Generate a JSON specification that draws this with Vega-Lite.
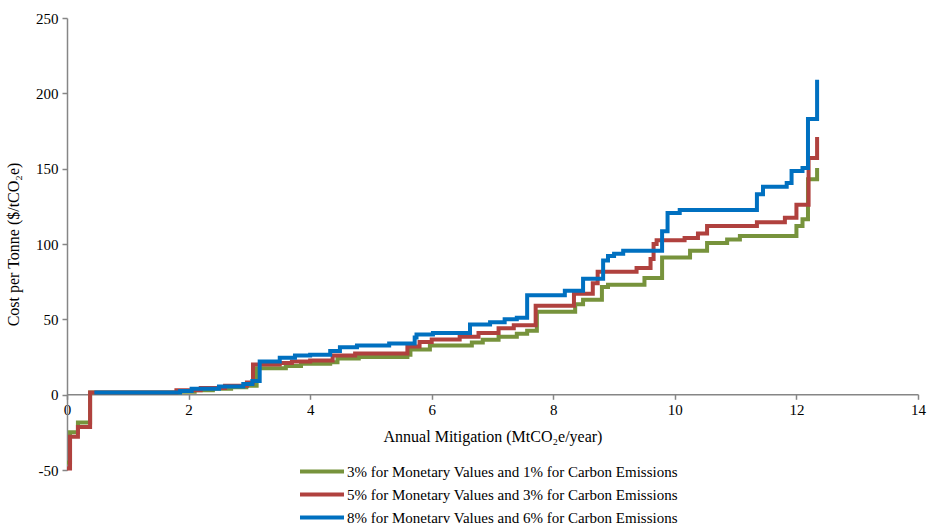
{
  "$schema": "https://vega.github.io/schema/vega-lite/v6.json",
  "width": 851,
  "height": 452,
  "autosize": {"type": "none"},
  "padding": {"left": 67, "top": 18, "right": 16, "bottom": 53},
  "background": "white",
  "config": {
    "view": {"stroke": null},
    "font": "Liberation Serif",
    "axis": {"labelFont": "Liberation Serif", "titleFont": "Liberation Serif", "labelFontSize": 15, "titleFontSize": 16, "titleFontWeight": "normal", "labelColor": "black", "titleColor": "black", "domainColor": "#868686", "tickColor": "#868686", "domainWidth": 1.5, "tickWidth": 1.5, "grid": false}
  },
  "datasets": {
    "pts": [
      {"s": "3% for Monetary Values and 1% for Carbon Emissions", "x": 0, "y": -45},
      {"s": "3% for Monetary Values and 1% for Carbon Emissions", "x": 0.05, "y": -25},
      {"s": "3% for Monetary Values and 1% for Carbon Emissions", "x": 0.18, "y": -18.5},
      {"s": "3% for Monetary Values and 1% for Carbon Emissions", "x": 0.38, "y": 1.5},
      {"s": "3% for Monetary Values and 1% for Carbon Emissions", "x": 1.85, "y": 2},
      {"s": "3% for Monetary Values and 1% for Carbon Emissions", "x": 2.1, "y": 3},
      {"s": "3% for Monetary Values and 1% for Carbon Emissions", "x": 2.4, "y": 4},
      {"s": "3% for Monetary Values and 1% for Carbon Emissions", "x": 2.7, "y": 5},
      {"s": "3% for Monetary Values and 1% for Carbon Emissions", "x": 2.95, "y": 6},
      {"s": "3% for Monetary Values and 1% for Carbon Emissions", "x": 3.12, "y": 17.5},
      {"s": "3% for Monetary Values and 1% for Carbon Emissions", "x": 3.6, "y": 19},
      {"s": "3% for Monetary Values and 1% for Carbon Emissions", "x": 3.85, "y": 20.5},
      {"s": "3% for Monetary Values and 1% for Carbon Emissions", "x": 4.33, "y": 21.5},
      {"s": "3% for Monetary Values and 1% for Carbon Emissions", "x": 4.45, "y": 24},
      {"s": "3% for Monetary Values and 1% for Carbon Emissions", "x": 4.8, "y": 25},
      {"s": "3% for Monetary Values and 1% for Carbon Emissions", "x": 5.6, "y": 26.5},
      {"s": "3% for Monetary Values and 1% for Carbon Emissions", "x": 5.65, "y": 30},
      {"s": "3% for Monetary Values and 1% for Carbon Emissions", "x": 5.97, "y": 32.6},
      {"s": "3% for Monetary Values and 1% for Carbon Emissions", "x": 6.66, "y": 34.6},
      {"s": "3% for Monetary Values and 1% for Carbon Emissions", "x": 6.84, "y": 36.5},
      {"s": "3% for Monetary Values and 1% for Carbon Emissions", "x": 7.1, "y": 38.5},
      {"s": "3% for Monetary Values and 1% for Carbon Emissions", "x": 7.4, "y": 40.5},
      {"s": "3% for Monetary Values and 1% for Carbon Emissions", "x": 7.57, "y": 42.5},
      {"s": "3% for Monetary Values and 1% for Carbon Emissions", "x": 7.73, "y": 55},
      {"s": "3% for Monetary Values and 1% for Carbon Emissions", "x": 8.36, "y": 60},
      {"s": "3% for Monetary Values and 1% for Carbon Emissions", "x": 8.49, "y": 63},
      {"s": "3% for Monetary Values and 1% for Carbon Emissions", "x": 8.8, "y": 71.5},
      {"s": "3% for Monetary Values and 1% for Carbon Emissions", "x": 8.9, "y": 73},
      {"s": "3% for Monetary Values and 1% for Carbon Emissions", "x": 9.5, "y": 77.5},
      {"s": "3% for Monetary Values and 1% for Carbon Emissions", "x": 9.79, "y": 91},
      {"s": "3% for Monetary Values and 1% for Carbon Emissions", "x": 10.25, "y": 95.5},
      {"s": "3% for Monetary Values and 1% for Carbon Emissions", "x": 10.53, "y": 100.7},
      {"s": "3% for Monetary Values and 1% for Carbon Emissions", "x": 10.86, "y": 103},
      {"s": "3% for Monetary Values and 1% for Carbon Emissions", "x": 11.07, "y": 105.3},
      {"s": "3% for Monetary Values and 1% for Carbon Emissions", "x": 12.0, "y": 112},
      {"s": "3% for Monetary Values and 1% for Carbon Emissions", "x": 12.1, "y": 116.5},
      {"s": "3% for Monetary Values and 1% for Carbon Emissions", "x": 12.19, "y": 143},
      {"s": "3% for Monetary Values and 1% for Carbon Emissions", "x": 12.34, "y": 150.5},
      {"s": "5% for Monetary Values and 3% for Carbon Emissions", "x": 0, "y": -49},
      {"s": "5% for Monetary Values and 3% for Carbon Emissions", "x": 0.05, "y": -28},
      {"s": "5% for Monetary Values and 3% for Carbon Emissions", "x": 0.18, "y": -21.5},
      {"s": "5% for Monetary Values and 3% for Carbon Emissions", "x": 0.38, "y": 1.5},
      {"s": "5% for Monetary Values and 3% for Carbon Emissions", "x": 1.8, "y": 3},
      {"s": "5% for Monetary Values and 3% for Carbon Emissions", "x": 2.2, "y": 4.5},
      {"s": "5% for Monetary Values and 3% for Carbon Emissions", "x": 2.6, "y": 6},
      {"s": "5% for Monetary Values and 3% for Carbon Emissions", "x": 2.96, "y": 8},
      {"s": "5% for Monetary Values and 3% for Carbon Emissions", "x": 3.06, "y": 20},
      {"s": "5% for Monetary Values and 3% for Carbon Emissions", "x": 3.5, "y": 21},
      {"s": "5% for Monetary Values and 3% for Carbon Emissions", "x": 3.7, "y": 22},
      {"s": "5% for Monetary Values and 3% for Carbon Emissions", "x": 4.0, "y": 22.7},
      {"s": "5% for Monetary Values and 3% for Carbon Emissions", "x": 4.37, "y": 26},
      {"s": "5% for Monetary Values and 3% for Carbon Emissions", "x": 4.74, "y": 27.3},
      {"s": "5% for Monetary Values and 3% for Carbon Emissions", "x": 5.6, "y": 32},
      {"s": "5% for Monetary Values and 3% for Carbon Emissions", "x": 5.8, "y": 35},
      {"s": "5% for Monetary Values and 3% for Carbon Emissions", "x": 6.0, "y": 36.6},
      {"s": "5% for Monetary Values and 3% for Carbon Emissions", "x": 6.46, "y": 38.5},
      {"s": "5% for Monetary Values and 3% for Carbon Emissions", "x": 6.77, "y": 41},
      {"s": "5% for Monetary Values and 3% for Carbon Emissions", "x": 7.1, "y": 44},
      {"s": "5% for Monetary Values and 3% for Carbon Emissions", "x": 7.35, "y": 46},
      {"s": "5% for Monetary Values and 3% for Carbon Emissions", "x": 7.71, "y": 59},
      {"s": "5% for Monetary Values and 3% for Carbon Emissions", "x": 8.34, "y": 67},
      {"s": "5% for Monetary Values and 3% for Carbon Emissions", "x": 8.65, "y": 74},
      {"s": "5% for Monetary Values and 3% for Carbon Emissions", "x": 8.73, "y": 81.5},
      {"s": "5% for Monetary Values and 3% for Carbon Emissions", "x": 9.37, "y": 84},
      {"s": "5% for Monetary Values and 3% for Carbon Emissions", "x": 9.6, "y": 90},
      {"s": "5% for Monetary Values and 3% for Carbon Emissions", "x": 9.65, "y": 100},
      {"s": "5% for Monetary Values and 3% for Carbon Emissions", "x": 9.7, "y": 102.5},
      {"s": "5% for Monetary Values and 3% for Carbon Emissions", "x": 10.16, "y": 104},
      {"s": "5% for Monetary Values and 3% for Carbon Emissions", "x": 10.38, "y": 107},
      {"s": "5% for Monetary Values and 3% for Carbon Emissions", "x": 10.53, "y": 112},
      {"s": "5% for Monetary Values and 3% for Carbon Emissions", "x": 11.35, "y": 114.5},
      {"s": "5% for Monetary Values and 3% for Carbon Emissions", "x": 11.81, "y": 117.5},
      {"s": "5% for Monetary Values and 3% for Carbon Emissions", "x": 12.0, "y": 126},
      {"s": "5% for Monetary Values and 3% for Carbon Emissions", "x": 12.2, "y": 157},
      {"s": "5% for Monetary Values and 3% for Carbon Emissions", "x": 12.34, "y": 171},
      {"s": "8% for Monetary Values and 6% for Carbon Emissions", "x": 0.45, "y": 1.5},
      {"s": "8% for Monetary Values and 6% for Carbon Emissions", "x": 1.86, "y": 2.5},
      {"s": "8% for Monetary Values and 6% for Carbon Emissions", "x": 2.05, "y": 4},
      {"s": "8% for Monetary Values and 6% for Carbon Emissions", "x": 2.5, "y": 5.5},
      {"s": "8% for Monetary Values and 6% for Carbon Emissions", "x": 2.9, "y": 7},
      {"s": "8% for Monetary Values and 6% for Carbon Emissions", "x": 3.05, "y": 9},
      {"s": "8% for Monetary Values and 6% for Carbon Emissions", "x": 3.17, "y": 22},
      {"s": "8% for Monetary Values and 6% for Carbon Emissions", "x": 3.5, "y": 24.5},
      {"s": "8% for Monetary Values and 6% for Carbon Emissions", "x": 3.75, "y": 26},
      {"s": "8% for Monetary Values and 6% for Carbon Emissions", "x": 4.0, "y": 26.5},
      {"s": "8% for Monetary Values and 6% for Carbon Emissions", "x": 4.33, "y": 29},
      {"s": "8% for Monetary Values and 6% for Carbon Emissions", "x": 4.49, "y": 31.5},
      {"s": "8% for Monetary Values and 6% for Carbon Emissions", "x": 4.77, "y": 32.6},
      {"s": "8% for Monetary Values and 6% for Carbon Emissions", "x": 5.3, "y": 34},
      {"s": "8% for Monetary Values and 6% for Carbon Emissions", "x": 5.72, "y": 38},
      {"s": "8% for Monetary Values and 6% for Carbon Emissions", "x": 5.75, "y": 40},
      {"s": "8% for Monetary Values and 6% for Carbon Emissions", "x": 6.02, "y": 41},
      {"s": "8% for Monetary Values and 6% for Carbon Emissions", "x": 6.63, "y": 46.5},
      {"s": "8% for Monetary Values and 6% for Carbon Emissions", "x": 6.96, "y": 48},
      {"s": "8% for Monetary Values and 6% for Carbon Emissions", "x": 7.2, "y": 50},
      {"s": "8% for Monetary Values and 6% for Carbon Emissions", "x": 7.4, "y": 51},
      {"s": "8% for Monetary Values and 6% for Carbon Emissions", "x": 7.57, "y": 66},
      {"s": "8% for Monetary Values and 6% for Carbon Emissions", "x": 8.19, "y": 69},
      {"s": "8% for Monetary Values and 6% for Carbon Emissions", "x": 8.49, "y": 77},
      {"s": "8% for Monetary Values and 6% for Carbon Emissions", "x": 8.82, "y": 89},
      {"s": "8% for Monetary Values and 6% for Carbon Emissions", "x": 8.9, "y": 92},
      {"s": "8% for Monetary Values and 6% for Carbon Emissions", "x": 9.0, "y": 93.5},
      {"s": "8% for Monetary Values and 6% for Carbon Emissions", "x": 9.15, "y": 95.5},
      {"s": "8% for Monetary Values and 6% for Carbon Emissions", "x": 9.79, "y": 108.5},
      {"s": "8% for Monetary Values and 6% for Carbon Emissions", "x": 9.88, "y": 120.5},
      {"s": "8% for Monetary Values and 6% for Carbon Emissions", "x": 10.08, "y": 122.5},
      {"s": "8% for Monetary Values and 6% for Carbon Emissions", "x": 11.35, "y": 133},
      {"s": "8% for Monetary Values and 6% for Carbon Emissions", "x": 11.45, "y": 138},
      {"s": "8% for Monetary Values and 6% for Carbon Emissions", "x": 11.84, "y": 140.5},
      {"s": "8% for Monetary Values and 6% for Carbon Emissions", "x": 11.92, "y": 148.4},
      {"s": "8% for Monetary Values and 6% for Carbon Emissions", "x": 12.1, "y": 150.5},
      {"s": "8% for Monetary Values and 6% for Carbon Emissions", "x": 12.19, "y": 183},
      {"s": "8% for Monetary Values and 6% for Carbon Emissions", "x": 12.34, "y": 209}
    ]
  },
  "data": {"name": "pts"},
  "mark": {"type": "line", "interpolate": "step-after", "strokeWidth": 4, "strokeJoin": "miter"},
  "encoding": {
    "x": {
      "field": "x", "type": "quantitative",
      "scale": {"domain": [0, 14], "nice": false, "zero": false},
      "axis": {"values": [0, 2, 4, 6, 8, 10, 12, 14], "format": "d", "offset": -75.7, "tickSize": 5, "labelPadding": 3, "title": "Annual Mitigation (MtCO₂e/year)", "titlePadding": 11, "labelFlush": false}
    },
    "y": {
      "field": "y", "type": "quantitative",
      "scale": {"domain": [-50, 250], "nice": false, "zero": false},
      "axis": {"values": [-50, 0, 50, 100, 150, 200, 250], "labelExpr": "'' + datum.value", "tickSize": 5, "labelPadding": 4, "title": "Cost per Tonne ($/tCO₂e)", "titlePadding": 14}
    },
    "color": {
      "field": "s", "type": "nominal",
      "scale": {"domain": ["3% for Monetary Values and 1% for Carbon Emissions", "5% for Monetary Values and 3% for Carbon Emissions", "8% for Monetary Values and 6% for Carbon Emissions"], "range": ["#77933C", "#B0413E", "#0070C0"]},
      "legend": {"orient": "none", "legendX": 247.5, "legendY": 446, "title": null, "symbolType": "M-4,0H4", "symbolStrokeWidth": 4, "symbolSize": 121, "labelFontSize": 15, "labelFont": "Liberation Serif", "labelColor": "black", "labelOffset": 17.5, "rowPadding": 6, "labelLimit": 500}
    },
    "order": {"field": "x", "type": "quantitative"}
  }
}
